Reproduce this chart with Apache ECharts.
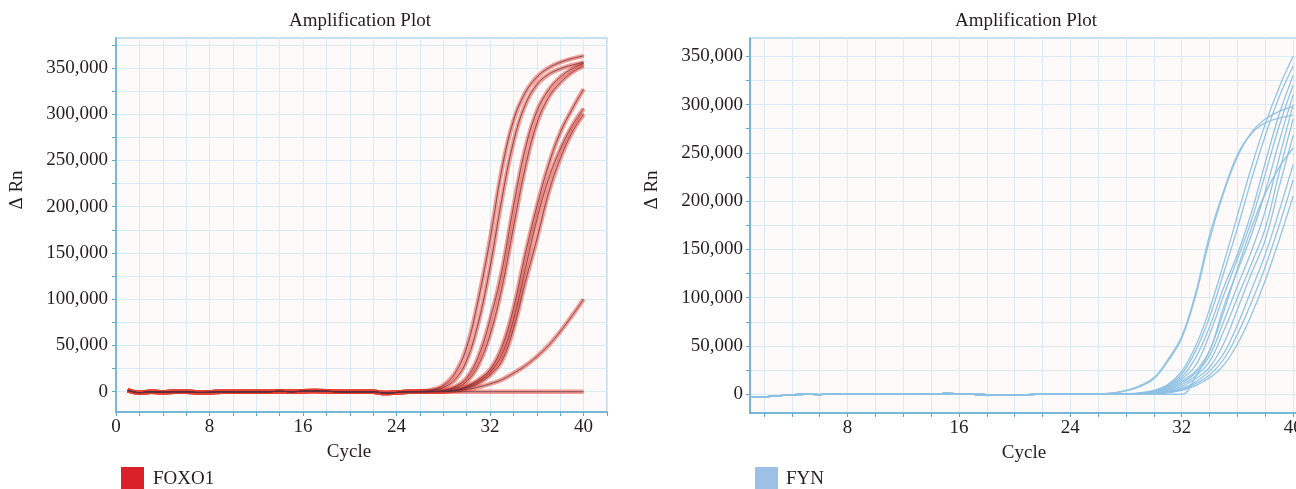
<!DOCTYPE html>
<html>
<head>
<meta charset="utf-8">
<title>Amplification Plot</title>
<script src="https://cdn.jsdelivr.net/npm/echarts@6.0.0/dist/echarts.min.js"></script>
<style>
html, body { margin: 0; padding: 0; background: #fff; overflow: hidden; }
#chart { width: 1330px; height: 489px; }
</style>
</head>
<body>
<div id="chart"></div>
<script>
// cycle numbers (x)
var cycles = [1,2,3,4,5,6,7,8,9,10,11,12,13,14,15,16,17,18,19,20,
              21,22,23,24,25,26,27,28,29,30,31,32,33,34,35,36,37,38,39,40];

// axis ticks / labels
var yTickValues  = [0,25000,50000,75000,100000,125000,150000,175000,200000,225000,250000,275000,300000,325000,350000,375000];
var yLabelValues = [0,50000,100000,150000,200000,250000,300000,350000];
var xTickLeft    = [0,2,4,6,8,10,12,14,16,18,20,22,24,26,28,30,32,34,36,38,40,42];
var xLabelLeft   = [0,8,16,24,32,40];
var xTickRight   = [2,4,6,8,10,12,14,16,18,20,22,24,26,28,30,32,34,36,38,40,42];
var xLabelRight  = [8,16,24,32,40];

// FOXO1: shared baseline for cycles 1-25, then each well for cycles 26-40
var foxoBase = [1500,-1000,0,-500,0,0,-800,-600,0,0,0,0,0,500,0,600,700,500,0,0,0,0,-1500,-800,0];
var foxoA  = [500,2000,7000,20000,48000,100000,165000,240000,293000,323000,340000,350000,356000,360000,363000];
var foxoB  = [300,1200,4500,13000,34000,75000,135000,208000,270000,310000,332000,343000,349000,353000,356000];
var foxoC1 = [100,400,1500,5500,15000,38000,78000,130000,200000,262000,303000,326000,340000,349000,355000];
var foxoC2 = [100,300,1000,4000,11000,29000,62000,112000,178000,242000,290000,318000,334000,345000,352000];
var foxoD1 = [0,200,500,2000,6000,13000,24000,48000,90000,148000,200000,245000,280000,305000,327000];
var foxoD2 = [0,100,400,1500,5000,11000,21000,40000,78000,132000,186000,230000,262000,287000,306000];
var foxoD3 = [0,100,300,1200,4000,9000,18000,33000,68000,118000,165000,215000,252000,280000,300000];
var foxoF  = [0,100,300,1000,2500,5000,8500,13000,20000,28000,38000,50000,65000,82000,100000];
var foxoN  = [0,0,0,0,0,0,0,0,0,0,0,0,0,0,0];

// FYN: shared baseline for cycles 1-26, then each well for cycles 27-40
var fynBase = [-2500,-2500,-1500,-500,0,-300,500,0,0,0,300,0,500,0,800,500,0,-500,-800,-800,-300,0,500,300,0,200];
var fyn1  = [1500,4000,9000,17000,36000,60000,105000,165000,210000,248000,270000,281000,286000,289000];
var fyn2  = [1200,3500,8000,16000,34000,58000,102000,160000,208000,246000,271000,285000,293000,298000];
var fyn3  = [200,500,1500,4000,10000,24000,50000,88000,135000,185000,235000,280000,318000,350000];
var fyn4  = [100,400,1200,3500,9000,21000,45000,80000,125000,172000,222000,268000,308000,340000];
var fyn5  = [100,300,1000,3000,8000,18000,38000,70000,110000,145000,188000,240000,290000,330000];
var fyn6  = [0,200,800,2500,7000,16000,30000,62000,102000,140000,180000,228000,278000,320000];
var fyn7  = [0,200,700,2000,6000,14000,24000,45000,90000,128000,165000,210000,262000,310000];
var fyn8  = [0,100,600,1800,5000,12000,22000,40000,75000,112000,148000,190000,245000,300000];
var fyn9  = [0,100,400,1500,4000,10000,19000,34000,65000,100000,135000,172000,230000,285000];
var fyn10 = [0,100,300,1200,3000,8000,16000,28000,52000,88000,125000,160000,215000,268000];
var fyn11 = [0,0,200,1000,2500,6000,13000,24000,42000,72000,108000,145000,190000,238000];
var fyn12 = [0,0,200,800,2000,5000,11000,20000,36000,62000,95000,132000,175000,222000];
var fyn13 = [0,0,100,600,1500,4000,9000,17000,30000,52000,82000,118000,160000,205000];
var fyn14 = [0,0,0,0,0,0,18000,45000,85000,130000,172000,208000,235000,255000];

var foxoWells = [foxoA, foxoB, foxoC1, foxoC2, foxoD1, foxoD2, foxoD3, foxoF, foxoN];
var fynWells  = [fyn1, fyn2, fyn3, fyn4, fyn5, fyn6, fyn7, fyn8, fyn9, fyn10, fyn11, fyn12, fyn13, fyn14];

var serif = 'Liberation Serif';
var txtColor = '#231f20';
var axisBlue = '#5ea9cf';

function toPairs(base, well) {
    var vals = base.concat(well);
    return cycles.map(function (c, i) { return [c, vals[i]]; });
}
function fmt(v) {
    return String(v).replace(/\B(?=(\d{3})+(?!\d))/g, ',');
}

function xAxisOf(gridIndex, min, max, ticks, labels) {
    return {
        type: 'value', gridIndex: gridIndex, min: min, max: max,
        axisLine: { show: true, onZero: false, lineStyle: { color: axisBlue, width: 1.5 } },
        axisTick: { show: true, inside: false, length: 4, customValues: ticks, lineStyle: { color: axisBlue } },
        axisLabel: { customValues: labels, margin: 6, color: txtColor, fontFamily: serif, fontSize: 19 },
        splitLine: { show: true, lineStyle: { color: '#d8eaf5', width: 1 } }
    };
}
function yAxisOf(gridIndex, min, max, margin) {
    return {
        type: 'value', gridIndex: gridIndex, min: min, max: max,
        axisLine: { show: true, onZero: false, lineStyle: { color: axisBlue, width: 1.5 } },
        axisTick: { show: true, inside: false, length: 4, customValues: yTickValues, lineStyle: { color: axisBlue } },
        axisLabel: { customValues: yLabelValues, margin: margin, color: txtColor, fontFamily: serif, fontSize: 19,
                     formatter: fmt },
        splitLine: { show: true, lineStyle: { color: '#d8eaf5', width: 1 } }
    };
}

var series = [];
// red halo under every FOXO1 trace
foxoWells.forEach(function (w) {
    series.push({
        name: 'FOXO1', type: 'line', xAxisIndex: 0, yAxisIndex: 0,
        data: toPairs(foxoBase, w), showSymbol: false, symbol: 'none',
        smooth: 0.4, silent: true,
        lineStyle: { color: '#e8402f', width: 4.5, opacity: 0.5 }
    });
});
// dark core line
foxoWells.forEach(function (w) {
    series.push({
        name: 'FOXO1', type: 'line', xAxisIndex: 0, yAxisIndex: 0,
        data: toPairs(foxoBase, w), showSymbol: false, symbol: 'none',
        smooth: 0.4,
        lineStyle: { color: '#5e3040', width: 1, opacity: 0.75 }
    });
});
fynWells.forEach(function (w) {
    series.push({
        name: 'FYN', type: 'line', xAxisIndex: 1, yAxisIndex: 1,
        data: toPairs(fynBase, w), showSymbol: false, symbol: 'none',
        smooth: 0.4,
        lineStyle: { color: '#8cc1e4', width: 1.3, opacity: 0.95 }
    });
});

function label(x, y, text, rot, align) {
    return {
        type: 'text', x: x, y: y, rotation: rot || 0, silent: true,
        style: { text: text, fill: txtColor, font: '19px "' + serif + '"',
                 textAlign: align || 'center', textVerticalAlign: 'middle' }
    };
}
function swatch(x, color) {
    return { type: 'rect', silent: true, shape: { x: x, y: 467, width: 23, height: 23 }, style: { fill: color } };
}

var myChart = echarts.init(document.getElementById('chart'));
var option = {
    backgroundColor: '#ffffff',
    animation: false,
    grid: [
        { left: 116, top: 38, width: 491, height: 374, show: true,
          backgroundColor: '#fffafa', borderColor: '#8cc3de', borderWidth: 1 },
        { left: 750, top: 38, width: 571, height: 375, show: true,
          backgroundColor: '#fffafa', borderColor: '#8cc3de', borderWidth: 1 }
    ],
    xAxis: [
        xAxisOf(0, 0, 42, xTickLeft, xLabelLeft),
        xAxisOf(1, 1, 42, xTickRight, xLabelRight)
    ],
    yAxis: [
        yAxisOf(0, -21900, 382300, 8),
        yAxisOf(1, -19400, 368900, 7)
    ],
    graphic: [
        label(360, 21, 'Amplification Plot'),
        label(1026, 21, 'Amplification Plot'),
        label(349, 452, 'Cycle'),
        label(1024, 453, 'Cycle'),
        label(17, 190, 'Δ Rn', Math.PI / 2),
        label(652, 190, 'Δ Rn', Math.PI / 2),
        swatch(121, '#d9212a'),
        label(153, 479, 'FOXO1', 0, 'left'),
        swatch(755, '#9dc0e6'),
        label(786, 479, 'FYN', 0, 'left')
    ],
    series: series
};
myChart.setOption(option);
window.addEventListener('resize', function () {
    myChart.resize();
});
</script>
</body>
</html>
